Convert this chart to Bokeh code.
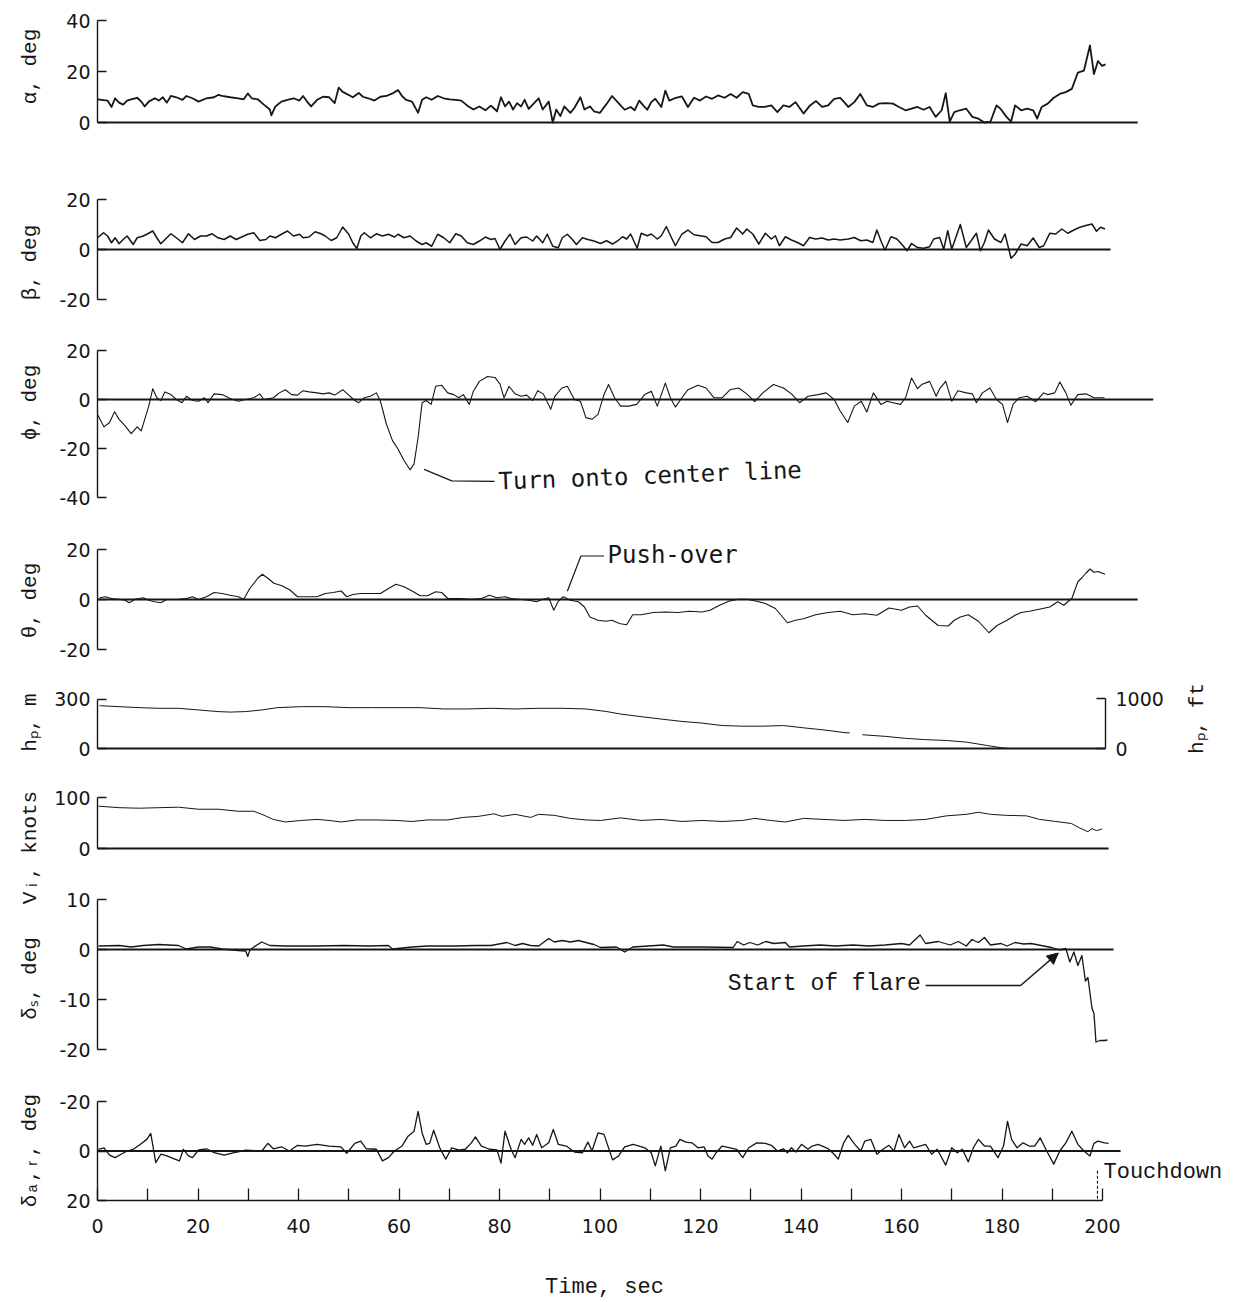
import numpy as np
from bokeh.plotting import figure
from bokeh.models import Range1d, LinearAxis, FixedTicker, Label, Arrow, NormalHead
from bokeh.embed import file_html
from bokeh.resources import INLINE

# ---------------- data (time in s, value) ----------------
ALPHA = [(0,9.1),(0.8,8.9),(2.0,8.6),(2.8,6.1),(3.5,9.5),(4.3,7.8),(5.1,7.0),(5.9,8.6),(6.7,9.1),(7.9,9.7),
         (8.7,8.2),(9.4,6.3),(10.2,8.2),(11.4,9.5),(12.2,8.6),(13.0,9.9),(13.8,7.8),(14.6,10.4),(15.7,9.9),(16.9,8.9),
         (17.7,10.4),(18.9,9.5),(20.1,8.2),(21.7,9.5),(23.2,9.9),(24.0,10.8),(24.8,10.4),(26.4,9.9),(28.0,9.5),(29.1,9.1),
         (29.9,11.4),(30.7,9.5),(31.9,9.1),(33.1,7.0),(34.3,5.1),(34.6,2.8),(35.4,6.3),(36.6,8.2),(37.8,8.9),(39.0,9.5),
         (40.2,8.6),(40.9,10.4),(41.7,8.2),(42.5,6.3),(43.7,8.9),(44.9,10.1),(46.1,9.9),(47.2,7.6),(48.0,13.7),(48.8,12.0),
         (50.0,10.8),(50.8,9.9),(52.0,11.6),(52.8,10.1),(53.9,9.5),(55.1,8.6),(56.3,10.1),(57.5,10.4),(58.7,11.4),(59.8,12.7),
         (60.6,10.4),(61.4,8.9),(62.6,8.2),(63.8,3.8),(64.6,8.9),(65.4,9.9),(66.5,8.9),(67.7,10.4),(68.9,9.5),(70.1,9.1),
         (71.3,8.9),(72.4,8.6),(73.6,6.6),(74.8,5.1),(76.0,6.3),(77.2,4.8),(78.3,6.6),(79.5,4.4),(80.3,9.9),(81.1,6.3),
         (81.9,8.2),(82.7,5.1),(83.5,7.6),(84.3,6.3),(85.0,8.9),(85.8,5.3),(86.6,7.0),(87.8,9.5),(88.6,5.1),(89.8,8.2),
         (90.6,0.0),(91.3,5.1),(92.1,2.5),(92.9,6.3),(94.1,3.8),(94.9,5.7),(96.1,9.9),(96.9,5.1),(98.0,6.3),(98.8,4.4),
         (100.0,3.8),(101.2,7.0),(102.4,10.4),(104.1,6.7),(104.9,5.0),(106.1,6.1),(106.9,4.8),(107.8,8.6),(108.6,6.7),(109.4,5.0),
         (110.2,8.0),(111.0,9.3),(112.2,6.1),(113.0,12.5),(113.8,8.6),(115.1,9.7),(116.3,10.2),(117.5,6.1),(118.7,9.7),(119.9,8.6),
         (121.1,10.2),(122.3,9.3),(123.5,10.6),(124.8,9.7),(126.0,11.2),(127.2,9.7),(128.4,11.9),(129.6,11.2),(130.4,6.7),(131.6,6.1),
         (132.8,6.1),(134.1,6.7),(135.3,4.1),(136.5,6.7),(137.7,6.1),(138.9,8.0),(140.5,3.5),(141.8,6.7),(143.0,8.4),(144.2,6.1),
         (145.4,6.7),(146.6,9.3),(147.8,9.7),(148.6,8.0),(149.4,6.1),(150.6,8.0),(151.8,11.2),(153.1,6.7),(154.3,6.1),(155.5,7.4),
         (156.7,7.6),(158.3,7.4),(159.5,6.1),(160.8,4.8),(162.0,5.4),(163.2,6.1),(164.4,5.0),(165.6,6.1),(166.8,2.2),(168.0,4.8),
         (168.8,11.5),(169.6,0.3),(170.5,4.1),(171.6,4.8),(172.9,5.4),(174.1,2.2),(175.3,1.5),(176.5,0.0),(177.7,0.3),(178.9,6.7),
         (179.7,5.4),(180.9,2.2),(181.8,0.3),(182.6,6.7),(183.8,4.8),(185.0,5.4),(186.2,4.8),(187.0,1.5),(187.9,6.1),(189.1,7.4),
         (190.3,9.7),(191.5,11.2),(192.7,11.9),(193.9,13.2),(195.1,19.6),(196.3,20.3),(197.5,30.2),(198.3,19.0),(199.1,24.1),(199.9,22.2),
         (200.6,22.8)]

BETA = [(0,4.7),(1.2,6.7),(2.0,5.4),(2.8,2.7),(3.5,4.7),(4.3,2.3),(5.1,4.0),(5.9,5.4),(7.1,2.0),(7.9,4.7),
        (9.1,5.4),(9.8,6.1),(11.0,7.4),(11.8,4.7),(12.6,2.3),(13.8,4.7),(14.6,6.3),(15.7,4.7),(16.9,2.7),(18.1,6.3),
        (19.3,4.0),(20.5,5.4),(21.7,5.4),(22.8,6.3),(24.0,4.7),(25.2,4.0),(26.4,5.4),(27.6,4.0),(28.7,5.0),(29.9,6.1),
        (31.1,6.7),(32.3,3.6),(33.5,4.0),(34.3,5.4),(35.4,4.7),(36.6,6.1),(37.8,7.4),(39.0,5.4),(40.2,6.1),(40.9,4.7),
        (42.1,5.0),(43.3,7.1),(44.5,6.3),(45.3,5.4),(46.5,3.6),(47.6,4.7),(48.8,9.0),(50.0,6.1),(50.8,2.7),(51.6,0.4),
        (52.4,5.4),(53.1,6.7),(54.3,4.7),(55.5,6.3),(56.7,5.4),(57.9,6.1),(59.1,5.0),(59.8,6.1),(61.0,4.7),(62.2,5.4),
        (63.4,3.4),(64.6,2.0),(65.4,2.7),(66.5,1.3),(67.7,6.1),(68.9,4.7),(70.1,2.7),(71.3,6.3),(72.4,5.4),(73.6,2.7),
        (74.8,2.0),(76.0,3.4),(77.2,5.0),(78.3,4.0),(79.1,4.4),(80.1,0.0),(81.1,3.4),(82.1,6.1),(83.1,2.0),(84.3,4.7),
        (85.4,5.0),(86.6,3.4),(87.4,5.4),(88.6,2.7),(89.5,6.1),(90.6,1.3),(91.7,0.7),(92.5,4.7),(93.5,6.1),(94.5,4.0),
        (95.3,2.0),(96.5,4.7),(97.6,4.0),(98.8,3.4),
        (100.1,2.4),(101.3,3.5),(102.5,2.2),(103.7,3.8),(104.5,5.1),(105.3,4.2),(106.1,6.2),(107.4,0.5),(108.2,6.5),(109.4,5.5),
        (110.2,6.2),(111.4,4.2),(112.2,5.5),(113.2,9.2),(114.2,4.8),(115.0,1.5),(116.3,6.2),(117.5,7.8),(118.7,5.9),(119.9,5.5),
        (121.1,5.1),(122.3,2.8),(123.5,2.8),(124.8,4.2),(126.0,4.8),(127.2,8.6),(128.4,6.2),(129.2,8.2),(130.4,6.2),(131.6,2.2),
        (132.9,6.5),(134.1,4.2),(134.9,5.5),(135.7,1.5),(136.9,5.1),(138.1,3.8),(139.3,2.8),(140.5,1.5),(141.7,4.8),(142.9,4.2),
        (144.2,4.6),(145.4,3.8),(146.6,4.2),(147.8,3.8),(149.4,4.2),(150.6,4.8),(151.9,3.5),(153.1,3.8),(154.3,2.8),(155.1,7.8),
        (155.9,3.5),(156.7,-0.3),(157.9,5.1),(159.1,4.2),(160.3,1.5),(161.1,-0.5),(162.0,2.4),(163.2,0.8),(164.4,0.5),(165.6,1.1),
        (166.4,4.2),(167.6,4.8),(168.4,0.1),(169.2,7.5),(170.0,0.1),(171.7,10.0),(172.9,0.8),(174.1,4.2),(174.9,6.5),(175.7,-0.5),
        (176.5,2.8),(177.3,7.8),(178.5,4.2),(179.8,2.8),(180.6,6.2),(181.8,-3.5),(182.6,-1.9),(183.8,2.2),(185.0,1.5),(186.2,4.6),
        (187.4,0.8),(188.3,1.5),(189.5,6.5),(190.7,6.2),(191.9,8.2),(193.1,6.5),(194.3,7.8),(195.5,8.9),(196.7,9.6),(197.9,10.2),
        (198.8,7.3),(199.6,8.9),(200.5,8.2)]

PHI = [(0,-6.1),(1.3,-11.2),(2.4,-9.4),(3.4,-5.0),(4.3,-8.1),(5.5,-10.8),(6.7,-13.9),(7.9,-11.2),(8.7,-12.8),(9.4,-8.1),
       (10.2,-2.7),(11.0,4.4),(11.8,0.7),(12.6,-0.4),(13.4,3.1),(14.6,2.0),(15.7,0.0),(16.8,-1.3),(17.7,1.3),(18.9,-0.4),
       (20.1,-0.7),(21.3,0.7),(22.0,-1.3),(23.2,2.3),(24.8,2.0),(26.4,0.4),(28.0,-0.7),(29.5,0.0),(31.1,0.7),(32.3,2.3),
       (33.1,0.0),(35.0,0.7),(36.2,2.7),(37.4,4.0),(38.6,2.0),(39.8,1.8),(40.9,3.6),(42.1,3.1),(43.7,2.7),(44.9,2.3),
       (46.1,2.7),(47.2,1.8),(48.8,4.0),(50.0,1.8),(51.2,-0.4),(52.0,-1.3),(53.1,0.7),(54.3,1.3),(55.5,2.7),(56.3,-0.7),
       (57.5,-10.1),(58.7,-16.8),(59.8,-20.2),(61.0,-24.9),(62.2,-28.7),(63.0,-26.3),(63.8,-15.5),(64.6,-1.3),(65.4,-0.4),(66.4,-2.0),
       (67.3,5.4),(68.5,5.8),(69.7,2.7),(70.9,2.0),(71.9,0.7),(72.8,2.0),(74.0,-2.0),(74.8,3.4),(76.0,7.4),(77.6,9.4),
       (79.1,9.0),(80.1,6.3),(80.9,0.7),(81.9,5.4),(83.1,2.3),(84.3,1.3),(85.4,1.8),(86.6,-0.4),(87.6,3.6),(88.7,2.3),
       (90.2,-4.0),(91.0,1.3),(92.4,4.7),(93.5,5.4),(94.9,0.0),(96.1,-0.7),(97.2,-7.4),(98.4,-8.1),(99.6,-6.1),(100.8,2.0),
       (101.7,6.1),(102.9,0.7),(104.1,-2.7),(105.7,-2.7),(107.3,-2.0),(108.9,2.0),(110.2,3.4),(111.4,-2.7),(113.0,6.7),(114.0,0.7),
       (115.0,-3.1),(116.3,0.7),(117.5,4.0),(119.5,5.8),(121.1,4.7),(122.7,0.7),(124.3,0.7),(125.9,4.0),(127.6,4.7),(129.2,2.3),
       (130.8,-0.9),(132.4,2.7),(134.5,6.1),(136.5,4.7),(138.1,2.3),(139.7,-1.3),(141.4,1.3),(143.4,2.0),(145.0,2.7),(146.6,0.0),
       (147.8,-4.7),(149.3,-9.4),(150.6,-2.7),(152.0,-0.7),(153.1,-5.1),(154.4,2.7),(155.9,-2.0),(157.1,-0.7),(158.3,-1.3),(159.8,-2.0),
       (160.8,0.7),(162.0,8.8),(163.2,4.4),(164.0,6.1),(165.6,7.4),(166.9,1.3),(167.6,4.4),(168.8,7.4),(170.0,-0.7),(171.2,3.6),
       (172.9,2.7),(174.1,2.3),(174.9,-1.3),(176.1,2.7),(177.6,4.7),(178.9,0.0),(180.1,-2.0),(181.1,-9.4),(182.2,-2.0),(183.4,0.7),
       (185.0,1.3),(186.7,-0.9),(188.3,2.7),(189.1,2.0),(190.5,2.7),(191.5,7.1),(192.7,2.7),(193.7,-2.3),(195.1,2.0),(196.7,2.3),
       (198.3,0.7),(200.4,0.7)]

THETA = [(0.4,0.7),(1.6,1.1),(2.8,0.4),(4.3,0.1),(5.5,-0.3),(6.3,-1.3),(7.5,0.1),(9.1,0.7),(10.2,-0.3),(11.4,-0.9),
         (12.6,-1.3),(13.8,0.0),(16.1,0.1),(17.7,0.4),(18.9,1.1),(20.1,0.0),(21.7,1.1),(23.2,2.8),(24.8,2.4),(26.4,1.7),
         (28.0,1.1),(29.1,0.1),(30.3,4.4),(31.9,8.5),(32.8,10.1),(33.9,8.5),(35.1,6.5),(36.7,5.5),(38.3,3.8),(39.8,1.1),
         (41.7,1.1),(43.7,1.1),(45.3,2.4),(46.9,2.8),(48.5,3.4),(49.6,1.1),(50.8,2.0),(52.4,2.4),(54.3,2.4),(56.3,2.4),
         (57.9,4.4),(59.4,6.1),(61.0,5.1),(62.6,3.4),(64.2,1.5),(65.7,1.5),(67.3,3.1),(68.5,2.8),(69.7,0.4),(72.0,0.4),
         (74.4,0.1),(76.4,0.4),(78.0,1.7),(79.5,0.7),(81.1,1.1),(82.3,0.4),(83.9,0.1),(85.8,-0.3),(87.4,-0.9),(88.6,0.1),
         (89.8,0.7),(90.8,-4.3),(91.7,-0.7),(92.7,1.1),(94.1,-0.3),(95.7,-0.9),(96.9,-3.0),(98.0,-7.0),(99.6,-8.3),(101.2,-8.7),
         (102.4,-8.3),(103.5,-9.3),(104.1,-9.7),(105.3,-10.1),(106.5,-6.1),(108.2,-6.1),(110.6,-5.2),(113.0,-5.0),(115.5,-5.2),(117.8,-4.7),
         (120.3,-5.0),(121.9,-4.3),(123.5,-2.6),(125.6,-0.7),(127.6,0.1),(129.2,0.1),(131.2,-0.7),(132.9,-1.6),(134.9,-3.6),(137.3,-9.3),
         (138.9,-8.3),(140.5,-7.7),(142.9,-6.1),(145.4,-5.2),(147.8,-4.7),(150.3,-6.1),(152.7,-5.7),(155.1,-6.3),(157.5,-3.4),(160.0,-4.3),
         (161.6,-3.0),(163.2,-2.6),(164.8,-6.3),(167.3,-10.4),(169.3,-10.6),(170.5,-8.3),(171.7,-7.0),(173.3,-6.1),(175.3,-8.7),(177.4,-13.3),
         (179.0,-10.4),(181.0,-8.3),(182.6,-6.3),(183.8,-5.2),(185.4,-4.7),(187.4,-3.9),(189.5,-3.0),(191.1,-0.9),(192.3,-2.3),(193.1,-0.9),
         (193.9,0.4),(195.1,7.1),(195.9,8.7),(196.7,10.5),(197.5,12.2),(198.3,10.9),(199.1,11.2),(200.5,10.1)]

# pressure altitude, m (a gap in the record near 150 s)
HP = [(0.4,261),(4.3,255),(8.3,249),(12.2,245),(16.1,245),(20.1,235),(24.0,225),(26.4,222),(29.5,225),(32.7,235),
      (35.8,249),(40.6,255),(45.3,255),(50.0,249),(54.7,249),(59.4,249),(64.2,249),(68.9,241),(73.6,241),(78.3,245),
      (83.1,241),(87.8,245),(92.5,245),(97.2,241),(101.2,226),(104.1,210),(108.2,194),(112.3,179),(116.3,165),(120.3,155),
      (124.3,140),(128.4,136),(132.4,136),(136.5,140),(140.5,126),(144.6,113),(148.6,97),(149.7,95),(150.5,float("nan")),
      (152.2,84),(156.8,74),(160.8,62),(164.8,54),(168.9,49),(172.9,39),(176.9,19),(180.2,3),(181.5,0)]

VI = [(0.2,83),(4.3,80),(8.3,79),(12.2,80),(16.1,81),(20.1,77),(24.0,77),(28.0,73),(31.1,73),(32.7,67),
      (35.0,57),(37.4,52),(40.6,55),(43.7,57),(46.1,55),(48.5,52),(51.6,56),(55.5,56),(59.4,55),(62.6,53),
      (65.7,56),(69.7,56),(72.8,61),(75.8,63),(78.9,68),(80.5,63),(83.1,67),(86.2,61),(87.8,67),(90.9,65),
      (94.1,59),(97.2,56),(100.1,55),(104.1,60),(108.2,55),(112.2,57),(116.3,53),(120.3,55),(124.3,53),(128.4,55),
      (130.8,59),(133.9,55),(136.9,52),(140.5,59),(144.6,57),(148.6,55),(152.7,57),(156.8,55),(160.8,55),(164.8,57),
      (168.9,64),(172.9,67),(175.3,71),(177.7,67),(180.9,65),(184.9,64),(187.5,57),(190.7,53),(193.8,49),(195.5,40),
      (197.1,33),(197.9,39),(198.8,35),(199.9,38)]

DELTA_S = [(0.2,0.7),(4.3,0.8),(6.7,0.5),(9.1,0.8),(12.2,1.0),(16.1,0.8),(17.7,0.1),(20.1,0.5),(22.4,0.5),(24.8,0.1),
           (28.0,-0.2),(29.5,-0.3),(29.9,-1.4),(30.3,-0.2),(31.1,0.5),(32.7,1.5),(34.3,0.8),(37.4,0.7),(43.7,0.7),(49.2,0.8),
           (53.9,0.7),(57.9,0.8),(58.7,0.1),(62.6,0.5),(65.7,0.7),(71.3,0.7),(75.2,0.8),(78.3,0.8),(81.5,1.4),(83.1,0.8),
           (84.6,1.2),(86.2,0.8),(87.8,0.7),(89.8,2.2),(90.9,1.5),(92.5,1.8),(94.1,1.5),(95.7,1.8),(97.2,1.4),(98.8,1.0),
           (100.1,0.4),(103.3,0.5),(104.9,-0.5),(106.5,0.5),(109.6,0.7),(112.6,0.9),(114.6,0.5),(120.3,0.5),(126.5,0.4),(127.3,1.6),
           (128.6,0.9),(129.8,1.4),(131.4,0.9),(133.0,1.6),(134.6,1.2),(136.9,1.4),(137.7,0.5),(140.5,0.7),(143.8,0.9),(146.9,0.7),
           (150.3,0.9),(153.5,0.7),(156.7,0.9),(160.0,1.2),(161.6,0.9),(163.7,2.9),(164.8,1.2),(167.3,1.6),(169.7,0.9),(171.3,1.6),
           (172.9,0.7),(174.0,2.0),(175.3,1.4),(176.5,2.4),(177.7,0.9),(179.8,1.2),(181.0,0.7),(182.6,1.4),(184.3,1.1),(185.8,1.2),
           (188.3,0.7),(189.9,0.4),(191.5,-0.1),(192.7,0.2),(193.5,-2.5),(194.3,-0.5),(195.1,-3.2),(195.9,-1.2),(196.6,-6.3),(197.1,-5.6),
           (197.9,-11.7),(198.3,-12.8),(198.7,-18.5),(199.5,-18.2),(200.4,-18.2),(201.0,-18.1)]

# aileron/rudder deflection, deg (axis reversed: negative up)
DELTA_AR = [(0.2,-0.7),(1.3,-1.3),(2.4,1.7),(3.5,2.7),(4.7,1.3),(5.9,0.0),(7.1,-0.7),(8.3,-2.3),(9.8,-4.7),(10.6,-7.1),
            (11.6,4.7),(12.6,1.3),(13.8,2.0),(15.4,3.3),(16.3,4.0),(17.1,-0.7),(18.1,2.0),(18.9,2.7),(20.1,-0.4),(21.7,-0.9),
            (23.2,0.7),(25.2,1.7),(27.2,0.7),(29.5,-0.3),(32.7,0.0),(33.9,-3.1),(35.0,-0.9),(36.6,-1.7),(38.2,0.0),(39.8,-2.3),
            (41.3,-2.0),(43.7,-2.7),(46.1,-2.0),(48.4,-1.7),(49.6,0.9),(51.2,-3.1),(52.4,-4.0),(53.5,-0.9),(55.5,-0.7),(56.7,4.0),
            (57.9,2.7),(59.1,0.0),(60.6,-2.0),(61.8,-6.0),(63.0,-8.0),(63.8,-16.0),(64.6,-7.3),(65.4,-2.7),(66.1,-3.1),(66.9,-8.4),
            (68.1,-1.3),(69.3,3.3),(70.5,-1.3),(72.0,-0.4),(73.2,-0.7),(74.4,-3.3),(75.2,-5.7),(76.4,-2.0),(78.0,-0.7),(79.5,-0.4),
            (80.3,4.9),(81.1,-8.0),(82.3,-0.7),(83.1,2.7),(84.3,-4.7),(85.0,-2.7),(85.8,-5.3),(86.6,-2.3),(87.4,-6.7),(88.4,-1.3),
            (89.8,-3.3),(90.7,-8.7),(91.7,-2.7),(93.3,-2.0),(94.9,0.4),(96.5,0.7),(97.6,-3.6),(98.4,0.0),(99.6,-7.3),(100.8,-6.7),
            (102.5,3.6),(103.7,2.0),(104.9,-1.7),(106.6,-2.7),(107.8,-2.0),(108.9,-1.3),(110.2,0.7),(111.0,6.0),(112.1,-2.0),(113.0,8.0),
            (114.0,-1.3),(115.1,-2.0),(115.9,-4.7),(117.1,-3.6),(118.3,-3.3),(119.5,-1.3),(120.7,-1.7),(121.5,2.0),(122.3,3.3),(123.1,0.7),
            (124.3,-2.0),(125.9,-1.3),(127.2,-0.7),(128.4,2.7),(129.6,-1.3),(131.2,-3.3),(132.9,-3.1),(134.1,-2.3),(135.3,0.0),(136.5,-0.9),
            (137.3,0.7),(138.1,-1.3),(139.0,0.4),(140.1,-2.7),(141.4,-0.7),(142.2,-2.0),(143.4,-2.7),(144.6,-1.7),(145.4,-0.9),(146.6,1.3),
            (147.4,3.3),(148.5,-3.3),(149.4,-6.3),(150.7,-2.7),(151.9,0.0),(152.7,-4.0),(153.9,-4.7),(155.1,1.3),(156.3,-0.7),(157.5,-2.3),
            (158.5,0.0),(159.5,-6.7),(160.6,-1.3),(161.6,-4.0),(162.4,-1.3),(163.6,-2.0),(164.8,-2.7),(166.0,1.3),(167.1,-0.7),(168.8,5.7),
            (170.0,-1.3),(171.1,0.7),(172.1,-0.7),(173.3,4.4),(174.3,-1.3),(175.3,-4.7),(176.5,-2.0),(177.7,-2.0),(179.2,2.7),(180.3,-2.0),
            (181.1,-12.0),(181.9,-4.7),(183.0,-1.3),(184.2,-3.3),(185.4,-2.0),(186.5,-2.0),(187.6,-5.3),(188.9,0.0),(190.3,5.3),(191.5,0.0),
            (192.7,-3.3),(193.9,-8.0),(195.1,-2.7),(196.3,0.0),(197.5,2.0),(198.3,-3.1),(199.1,-4.0),(200.4,-3.3),(201.2,-3.1)]

TIME_TICKS = [0, 20, 40, 60, 80, 100, 120, 140, 160, 180, 200]
TIME_MINOR = [10, 30, 50, 70, 90, 110, 130, 150, 170, 190]

# ---------------- layout constants (pixels) ----------------
W, H = 1237, 1302
X0_PX = 97            # pixel column of t = 0
PX_PER_S = 5.025
INK = "#161616"
TICK_FONT = "DejaVu Sans"
TITLE_FONT = "Liberation Mono"


def t_at(px):
    return (px - X0_PX) / PX_PER_S


def panel_range(va, pa, vb, pb):
    """y range over the whole canvas height that puts value va at pixel row pa, vb at pb"""
    s = (vb - va) / (pa - pb)
    return Range1d(start=va - (H - pa) * s, end=va + pa * s)


def val_at(rng_anchor, px):
    va, pa, vb, pb = rng_anchor
    return va + (pa - px) * (vb - va) / (pa - pb)


# name, anchors (value, pixel) x2, ticks, title, title row (px), zero line end, trace, width
PANELS = [
    ("alpha", (0, 122, 40, 20), [0, 20, 40], "α, deg", 66, 207.0, ALPHA, 1.8),
    ("beta", (0, 249, 20, 199), [-20, 0, 20], "β, deg", 262, 201.6, BETA, 1.5),
    ("phi", (0, 399, 20, 350), [-40, -20, 0, 20], "ϕ, deg", 402, 210.1, PHI, 1.1),
    ("theta", (0, 599, 20, 549), [-20, 0, 20], "θ, deg", 600, 207.0, THETA, 1.1),
    ("hp", (0, 748, 304.8, 698), [0, 300], "hₚ, m", 722, 200.6, HP, 1.0),
    ("vi", (0, 848, 100, 797), [0, 100], "Vᵢ, knots", 847, 201.2, VI, 1.0),
    ("ds", (0, 949, 10, 899), [-20, -10, 0, 10], "δₛ, deg", 978, 202.2, DELTA_S, 1.3),
    ("da", (-20, 1101, 20, 1200), [-20, 0, 20], "δₐ,ᵣ, deg", 1150, 203.6, DELTA_AR, 1.3),
]
ANCH = {name: anch for name, anch, *_ in PANELS}
FT_ANCH = (0, 748, 1000, 698)

p = figure(width=W, height=H, output_backend="svg", toolbar_location=None,
           x_range=Range1d(t_at(0), t_at(W)), y_range=panel_range(*ANCH["da"]),
           x_axis_location=None, y_axis_location=None,
           min_border_left=0, min_border_right=0, min_border_top=0, min_border_bottom=0)
p.grid.visible = False
p.outline_line_color = None
p.background_fill_color = "white"
p.border_fill_color = "white"

p.extra_y_ranges = {name: panel_range(*anch) for name, anch in ANCH.items()}
p.extra_y_ranges["hp_ft"] = panel_range(*FT_ANCH)


def style_axis(ax):
    ax.axis_line_color = INK
    ax.axis_line_width = 1.4
    ax.major_tick_line_color = INK
    ax.major_tick_line_width = 1.3
    ax.major_tick_in = 9
    ax.major_tick_out = 0
    ax.minor_tick_in = 0
    ax.minor_tick_out = 0
    ax.major_label_text_font = TICK_FONT
    ax.major_label_text_font_size = "19px"
    ax.major_label_text_color = INK
    ax.major_label_standoff = 7


def title_label(x, y, yname, text, size="21px"):
    return Label(x=x, y=y, y_range_name=yname, text=text, angle=90, angle_units="deg",
                 text_align="center", text_baseline="middle",
                 text_font=TITLE_FONT, text_font_size=size, text_color=INK)


for name, anch, ticks, title, title_px, zend, trace, lw in PANELS:
    ax = LinearAxis(y_range_name=name, fixed_location=0,
                    bounds=(min(ticks), max(ticks)),
                    ticker=FixedTicker(ticks=ticks, minor_ticks=[]),
                    major_label_overrides={t: str(t) for t in ticks})
    style_axis(ax)
    p.add_layout(ax, "left")
    p.line([0, zend], [0, 0], y_range_name=name, line_color=INK, line_width=1.8)
    ts = [a for a, b in trace]
    vs = [b for a, b in trace]
    p.line(ts, vs, y_range_name=name, line_color=INK, line_width=lw, line_join="round")
    p.add_layout(title_label(t_at(30), val_at(anch, title_px), name, title))

# right-hand altitude axis in feet
ra = LinearAxis(y_range_name="hp_ft", fixed_location=200.6, bounds=(0, 1000),
                ticker=FixedTicker(ticks=[0, 1000], minor_ticks=[]),
                major_label_overrides={0: "0", 1000: "1000"})
style_axis(ra)
ra.major_label_standoff = 10
p.add_layout(ra, "right")
p.add_layout(title_label(t_at(1197), val_at(FT_ANCH, 718), "hp_ft", "hₚ, ft"))

# time axis, drawn at the +20 deg line of the last panel
xa = LinearAxis(fixed_location=20, bounds=(0, 200),
                ticker=FixedTicker(ticks=TIME_TICKS, minor_ticks=TIME_MINOR),
                major_label_overrides={t: str(t) for t in TIME_TICKS})
style_axis(xa)
xa.major_tick_in = 12
xa.minor_tick_in = 12
xa.minor_tick_line_color = INK
xa.minor_tick_line_width = 1.3
xa.major_label_standoff = 18
p.add_layout(xa, "below")
p.add_layout(Label(x=t_at(604), y=val_at(ANCH["da"], 1287), y_range_name="da", text="Time, sec",
                   text_align="center", text_baseline="middle", text_font=TITLE_FONT,
                   text_font_size="22px", text_color=INK))

# annotations
TURN_LEADER = [(65.0, -28.5), (70.5, -33.2), (79.0, -33.4)]
p.line([a for a, b in TURN_LEADER], [b for a, b in TURN_LEADER], y_range_name="phi",
       line_color=INK, line_width=1.2)
p.add_layout(Label(x=79.8, y=-33.5, y_range_name="phi", text="Turn onto center line",
                   angle=2.2, angle_units="deg", text_align="left", text_baseline="middle",
                   text_font="DejaVu Sans Mono", text_font_size="24px", text_color=INK))

PUSH_LEADER = [(93.5, 3.3), (96.2, 17.4), (100.8, 17.4)]
p.line([a for a, b in PUSH_LEADER], [b for a, b in PUSH_LEADER], y_range_name="theta",
       line_color=INK, line_width=1.2)
p.add_layout(Label(x=101.5, y=17.8, y_range_name="theta", text="Push-over",
                   text_align="left", text_baseline="middle",
                   text_font="DejaVu Sans Mono", text_font_size="24px", text_color=INK))

p.add_layout(Label(x=125.4, y=-6.8, y_range_name="ds", text="Start of flare",
                   text_align="left", text_baseline="middle",
                   text_font=TITLE_FONT, text_font_size="23px", text_color=INK))
p.line([164.8, 183.7], [-7.2, -7.2], y_range_name="ds", line_color=INK, line_width=1.5)
p.add_layout(Arrow(end=NormalHead(size=11, fill_color=INK, line_color=INK),
                   x_start=183.7, y_start=-7.2, x_end=191.2, y_end=-0.7,
                   y_range_name="ds", line_color=INK, line_width=1.5))

p.line([199.0, 199.0], [8.0, 19.5], y_range_name="da", line_color=INK,
       line_width=1.1, line_dash="3 2")
p.add_layout(Label(x=200.2, y=8.6, y_range_name="da", text="Touchdown",
                   text_align="left", text_baseline="middle",
                   text_font=TITLE_FONT, text_font_size="22px", text_color=INK))

open("out.html", "w").write(file_html(p, INLINE))
